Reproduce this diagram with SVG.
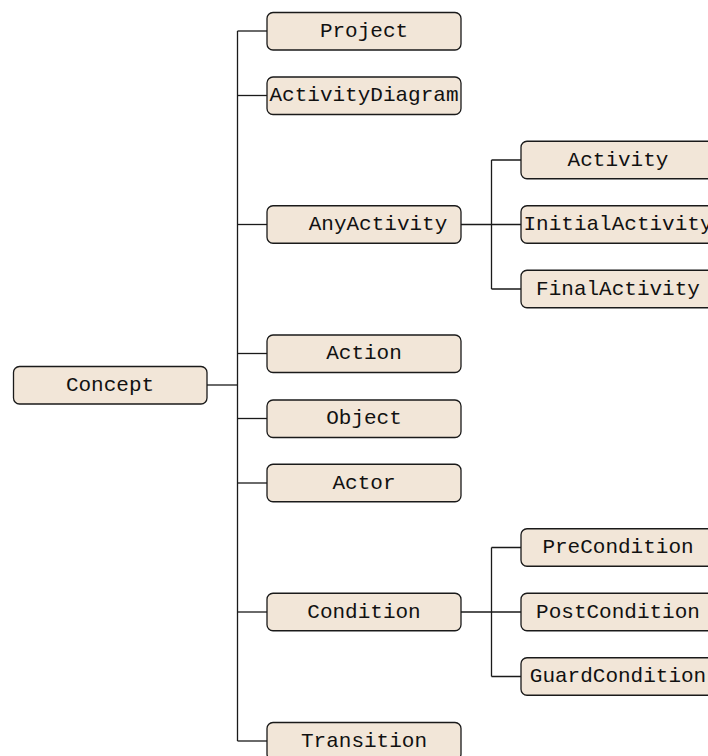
<svg xmlns="http://www.w3.org/2000/svg" width="708" height="756" viewBox="0 0 708 756">
  <style>
    .box { fill: #f2e6d8; stroke: #1a1a1a; stroke-width: 1.3; }
    .lbl { font-family: "Liberation Mono", "DejaVu Sans Mono", monospace; font-size: 21px; fill: #111; text-anchor: middle; }
    .wire { fill: none; stroke: #1a1a1a; stroke-width: 1.3; }
  </style>
  <rect width="708" height="756" fill="#ffffff"/>

  <!-- connectors -->
  <g id="connectors" class="wire">
    <path d="M207 385 H237.5"/>
    <path d="M237.5 31 V741"/>
    <path d="M237.5 31 H267"/>
    <path d="M237.5 95.5 H267"/>
    <path d="M237.5 224.5 H267"/>
    <path d="M237.5 353.5 H267"/>
    <path d="M237.5 418.5 H267"/>
    <path d="M237.5 483 H267"/>
    <path d="M237.5 612 H267"/>
    <path d="M237.5 741 H267"/>
    <path d="M461 224.5 H521"/>
    <path d="M491.5 160 V289 M491.5 160 H521 M491.5 289 H521"/>
    <path d="M461 612 H521"/>
    <path d="M491.5 547.5 V676.5 M491.5 547.5 H521 M491.5 676.5 H521"/>
  </g>

  <!-- root -->
  <g id="concept">
    <rect class="box" x="13.5" y="366.5" width="193.5" height="37.5" rx="6"/>
    <text class="lbl" x="110" y="391">Concept</text>
  </g>

  <!-- first level -->
  <g id="project">
    <rect class="box" x="267" y="12.5" width="194" height="37.5" rx="6"/>
    <text class="lbl" x="364" y="36.5">Project</text>
  </g>
  <g id="activity-diagram">
    <rect class="box" x="267" y="77" width="194" height="37.5" rx="6"/>
    <text class="lbl" x="364" y="101">ActivityDiagram</text>
  </g>
  <g id="any-activity">
    <rect class="box" x="267" y="205.75" width="194" height="37.5" rx="6"/>
    <text class="lbl" x="378" y="230">AnyActivity</text>
  </g>
  <g id="action">
    <rect class="box" x="267" y="335" width="194" height="37.5" rx="6"/>
    <text class="lbl" x="364" y="359">Action</text>
  </g>
  <g id="object">
    <rect class="box" x="267" y="400" width="194" height="37.5" rx="6"/>
    <text class="lbl" x="364" y="424">Object</text>
  </g>
  <g id="actor">
    <rect class="box" x="267" y="464.25" width="194" height="37.5" rx="6"/>
    <text class="lbl" x="364" y="488.5">Actor</text>
  </g>
  <g id="condition">
    <rect class="box" x="267" y="593.25" width="194" height="37.5" rx="6"/>
    <text class="lbl" x="364" y="617.5">Condition</text>
  </g>
  <g id="transition">
    <rect class="box" x="267" y="722.5" width="194" height="37.5" rx="6"/>
    <text class="lbl" x="364" y="746.5">Transition</text>
  </g>

  <!-- second level: activities -->
  <g id="activity">
    <rect class="box" x="521" y="141.25" width="194" height="37.5" rx="6"/>
    <text class="lbl" x="618" y="165.5">Activity</text>
  </g>
  <g id="initial-activity">
    <rect class="box" x="521" y="205.75" width="194" height="37.5" rx="6"/>
    <text class="lbl" x="618" y="230">InitialActivity</text>
  </g>
  <g id="final-activity">
    <rect class="box" x="521" y="270.25" width="194" height="37.5" rx="6"/>
    <text class="lbl" x="618" y="294.5">FinalActivity</text>
  </g>

  <!-- second level: conditions -->
  <g id="pre-condition">
    <rect class="box" x="521" y="528.75" width="194" height="37.5" rx="6"/>
    <text class="lbl" x="618" y="553">PreCondition</text>
  </g>
  <g id="post-condition">
    <rect class="box" x="521" y="593.25" width="194" height="37.5" rx="6"/>
    <text class="lbl" x="618" y="617.5">PostCondition</text>
  </g>
  <g id="guard-condition">
    <rect class="box" x="521" y="657.75" width="194" height="37.5" rx="6"/>
    <text class="lbl" x="618" y="682">GuardCondition</text>
  </g>
</svg>
